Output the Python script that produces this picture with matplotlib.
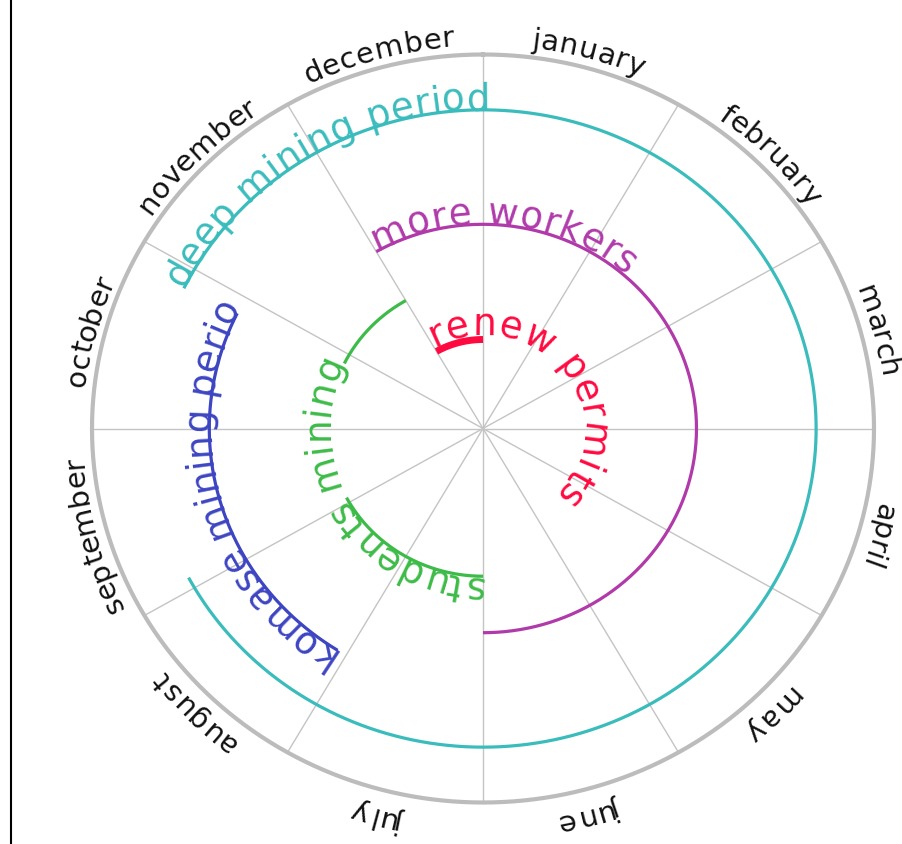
import numpy as np
import matplotlib
matplotlib.use("Agg")
import matplotlib.pyplot as plt
from matplotlib.font_manager import FontProperties, findfont

# ---------------- data ----------------
months = ["january", "february", "march", "april", "may", "june",
          "july", "august", "september", "october", "november", "december"]

# activity arcs (positions in months from Jan 1; values > 12 wrap into next year)
arc_labels = ["deep mining period", "komase mining period", "more workers",
              "students mining", "", "renew permits"]
arc_start = [9.87, 7.07, 11.0, 6.0, 9.87, 11.0]
arc_end = [20.07, 9.87, 18.0, 8.07, 11.0, 12.0]
arc_ring = [0.852, 0.700, 0.546, 0.395, 0.395, 0.238]
arc_colors = ["#3bbcbc", "#3d45c2", "#b03aaa", "#3dbb48", "#3dbb48", "#ff0a40"]
arc_widths = [2.3, 2.3, 2.3, 2.3, 2.3, 5.0]
label_ring = [0.852, 0.700, 0.546, 0.395, 0.395, 0.250]
label_path_end = [None, 9.87, None, None, None, None]

# ---------------- geometry ----------------
W, H = 902, 844
CX, CY = 483.0, 428.5
RX, RY = 391.0, 374.0
R0 = 374.0
LABEL_FS = 26.8
MONTH_FS = 21.0
MRX, MRY, MYOFF = 401.0, 388.0, 5.0   # month-label ring

fig = plt.figure(figsize=(W / 100, H / 100), dpi=100)
ax = fig.add_axes([0, 0, 1, 1])
ax.set_xlim(0, W)
ax.set_ylim(H, 0)
ax.axis("off")

def pos(theta_deg, r, yoff=0.0, rx=RX, ry=RY):
    t = np.radians(theta_deg)
    return CX + rx * r * np.sin(t), CY + yoff - ry * r * np.cos(t)

def tangent_rot(theta_deg, rx=RX, ry=RY):
    t = np.radians(theta_deg)
    return np.degrees(np.arctan2(-ry * np.sin(t), rx * np.cos(t)))

fp = FontProperties(family="DejaVu Sans")
try:
    from matplotlib.ft2font import FT2Font
    _font = FT2Font(findfont(fp))
    def advance(c, fs):
        _font.set_size(fs, 100)
        g = _font.load_char(ord(c))
        return g.linearHoriAdvance / 65536.0
except Exception:
    from matplotlib.textpath import TextToPath
    _ttp = TextToPath()
    def advance(c, fs):
        p = fp.copy(); p.set_size(fs)
        w1 = _ttp.get_text_width_height_descent("x" + c + "x", p, False)[0]
        w0 = _ttp.get_text_width_height_descent("xx", p, False)[0]
        return (w1 - w0) * 100 / 72

def arc_text(text, theta0, r, fs, color, theta_end=None, center=False, yoff=0.0,
             rx=RX, ry=RY, zorder=5):
    advs = [advance(c, fs) for c in text]
    total = sum(advs)
    radius_px = r * (rx + ry) / 2 * (R0 / ((RX + RY) / 2))
    s = -total / 2 if center else 0.0
    for c, a in zip(text, advs):
        mid = s + a / 2
        th = theta0 + np.degrees(mid / radius_px)
        if theta_end is not None and th > theta_end:
            break
        if c != " ":
            x, y = pos(th, r, yoff, rx, ry)
            ax.text(x, y, c, rotation=tangent_rot(th, rx, ry), rotation_mode="anchor",
                    ha="center", va="baseline", fontsize=fs, color=color,
                    family="DejaVu Sans", zorder=zorder)
        s += a

# left border line
ax.plot([11, 11], [0, H], color="black", lw=1.5, solid_capstyle="butt")

# spokes
for k in range(12):
    x, y = pos(k * 30, 1.0)
    ax.plot([CX, x], [CY, y], color="#c4c4c4", lw=1.0, zorder=1)

# outer ring
th = np.linspace(0, 360, 721)
x, y = pos(th, 1.0)
ax.plot(x, y, color="#bcbcbc", lw=3.0, zorder=2)

# activity arcs and labels
for lab, a0, a1, r, col, lw, lr, pe in zip(arc_labels, arc_start, arc_end, arc_ring,
                                          arc_colors, arc_widths, label_ring, label_path_end):
    th = np.linspace(a0 * 30, a1 * 30, 400)
    x, y = pos(th, r)
    ax.plot(x, y, color=col, lw=lw, solid_capstyle="butt", zorder=3)
    if lab:
        arc_text(lab, a0 * 30, lr, LABEL_FS, col,
                 theta_end=None if pe is None else pe * 30)

# month labels
for i, m in enumerate(months):
    arc_text(m, i * 30 + 15, 1.0, MONTH_FS, "#111111", center=True, yoff=MYOFF,
             rx=MRX, ry=MRY)

fig.savefig("out.png", dpi=100)
